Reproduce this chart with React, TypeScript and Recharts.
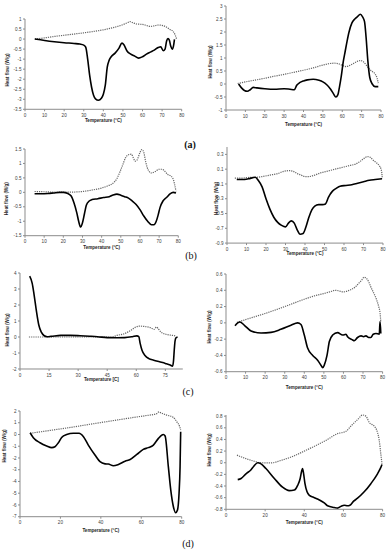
import React from 'react';
import { LineChart, Line, XAxis, YAxis, Label } from 'recharts';

// (a) left
const a1SolidT = [5, 10, 15, 20, 25, 28, 30, 31, 32, 33, 34, 35, 36, 37.5, 39, 40, 41, 42, 43, 44, 46, 48, 49.5, 50.5, 52, 54, 56, 58, 60, 62, 64, 66, 68, 69.3, 70.6, 71.5, 72.3, 73, 73.7, 74.4, 75.2, 75.8, 76.3];
const a1SolidHF = [0, -0.07, -0.13, -0.18, -0.22, -0.25, -0.3, -0.4, -1.0, -1.8, -2.4, -2.8, -2.98, -3.05, -2.95, -2.75, -2.3, -1.4, -1.05, -0.88, -0.7, -0.45, -0.2, -0.28, -0.58, -0.75, -0.85, -0.95, -0.88, -0.75, -0.65, -0.55, -0.42, -0.38, -0.58, -0.5, -0.1, 0.02, -0.05, -0.35, -0.5, -0.35, -0.02];
const a1DotT = [5, 10, 15, 20, 25, 30, 35, 40, 45, 50, 52, 53.6, 55, 57, 60, 62, 64, 66, 68, 70.5, 72.5, 74, 75.7, 76.7, 77.4];
const a1DotHF = [0, 0.06, 0.13, 0.19, 0.25, 0.31, 0.38, 0.46, 0.57, 0.72, 0.8, 0.87, 0.82, 0.75, 0.73, 0.68, 0.63, 0.66, 0.7, 0.67, 0.58, 0.48, 0.37, 0.2, 0.0];

// (a) right
const a2SolidT = [6.5, 8, 9.5, 11, 12.5, 14, 16, 20, 25, 30, 33, 35.3, 36.5, 38, 40, 42, 45, 48, 50, 52, 54, 55.5, 56.7, 57.7, 58.6, 59.5, 60.5, 61.5, 62.5, 63.5, 65, 66.5, 68, 69.3, 70.5, 71.5, 72.3, 73.2, 74.2, 75.5, 77, 78.6];
const a2SolidHF = [0, -0.15, -0.25, -0.28, -0.22, -0.13, -0.15, -0.18, -0.2, -0.18, -0.2, -0.22, -0.05, 0.05, 0.12, 0.16, 0.18, 0.14, 0.08, -0.03, -0.2, -0.38, -0.5, -0.42, -0.1, 0.3, 0.85, 1.25, 1.65, 2.0, 2.35, 2.5, 2.6, 2.68, 2.58, 2.4, 1.8, 0.9, 0.25, 0, -0.1, -0.1];
const a2DotT = [6, 10, 15, 20, 25, 30, 35, 40, 45, 50, 53, 56, 58.5, 60.5, 62, 64, 66, 68, 69.5, 71, 72.5, 74, 75.5, 77, 78, 78.6];
const a2DotHF = [0.02, 0.08, 0.15, 0.22, 0.3, 0.37, 0.45, 0.53, 0.62, 0.73, 0.78, 0.8, 0.77, 0.7, 0.67, 0.72, 0.8, 0.88, 0.9, 0.85, 0.72, 0.57, 0.48, 0.38, 0.22, 0.03];

// (b) left
const b1SolidT = [5, 8, 12, 15, 18, 20, 22, 24, 25.5, 27, 28, 29, 30, 31, 32, 33.5, 35, 38, 41, 44, 46, 48, 50, 52, 54, 56, 58, 60, 62, 64, 66, 67.3, 68.5, 69.5, 70.5, 72, 74, 75.7, 77.4, 78.8];
const b1SolidHF = [-0.05, -0.05, -0.04, -0.02, 0, 0, -0.03, -0.12, -0.35, -0.7, -1.0, -1.2, -1.05, -0.75, -0.45, -0.3, -0.25, -0.22, -0.18, -0.15, -0.09, -0.06, -0.1, -0.15, -0.2, -0.3, -0.42, -0.6, -0.82, -1.0, -1.12, -1.12, -1.0, -0.78, -0.52, -0.3, -0.17, -0.05, 0, -0.02];
const b1DotT = [5, 10, 15, 20, 25, 30, 35, 40, 43, 46, 48, 49.5, 51, 52.5, 54, 55.5, 56.5, 57.5, 58.5, 60, 61, 62, 63, 64.5, 66, 68, 70, 71.5, 73, 74.5, 76, 77.2, 78, 78.8];
const b1DotHF = [0.03, 0.02, 0.01, 0.01, 0.01, 0.03, 0.08, 0.15, 0.22, 0.32, 0.48, 0.7, 0.95, 1.2, 1.3, 1.32, 1.2, 1.08, 1.12, 1.38, 1.48, 1.38, 1.05, 0.75, 0.67, 0.72, 0.8, 0.8, 0.73, 0.62, 0.57, 0.48, 0.3, 0.03];

// (b) right
const b2SolidT = [5, 8, 11, 14.5, 16, 18, 20, 22, 24, 26, 28, 30, 31.5, 33, 34.5, 36, 37.5, 39, 40.5, 42, 43.5, 45, 47, 49, 50.5, 52, 54, 56, 58, 61, 64, 67, 70, 73, 76, 79.5];
const b2SolidHF = [-0.04, -0.04, -0.03, -0.01, -0.05, -0.14, -0.3, -0.44, -0.55, -0.62, -0.66, -0.68, -0.63, -0.6, -0.63, -0.72, -0.78, -0.77, -0.68, -0.55, -0.45, -0.4, -0.38, -0.38, -0.37, -0.28, -0.2, -0.16, -0.13, -0.12, -0.11, -0.09, -0.07, -0.05, -0.04, -0.03];
const b2DotT = [4, 8, 12, 15, 18, 22, 26, 29, 32, 34, 36, 38, 40, 42, 45, 48, 51, 54, 57, 60, 63, 66, 68, 70, 72, 73.5, 75, 76.5, 78, 79, 79.5, 79.6];
const b2DotHF = [-0.02, -0.02, -0.01, -0.01, 0.0, 0.02, 0.04, 0.07, 0.08, 0.07, 0.04, 0.02, 0.0, 0.0, 0.02, 0.05, 0.07, 0.09, 0.11, 0.13, 0.15, 0.17, 0.2, 0.24, 0.27, 0.26, 0.22, 0.19, 0.15, 0.1, 0.02, -0.03];

// (c) left
const c1SolidT = [5, 6.3, 7.2, 8.5, 9.7, 11, 12.5, 14, 16, 21, 26, 31, 36, 40, 45, 50, 54, 58, 60.3, 61.3, 62, 63, 64.5, 66.5, 69, 72, 75, 77.5, 78.7, 79.2, 79.6, 80, 80.5, 81.3];
const c1SolidHF = [3.8, 3.35, 2.7, 1.6, 0.75, 0.3, 0.08, 0.02, 0.04, 0.1, 0.1, 0.08, 0.05, 0.02, -0.04, -0.05, -0.04, 0.02, 0.07, 0.02, -0.4, -0.85, -1.15, -1.35, -1.45, -1.55, -1.65, -1.75, -1.82, -1.5, -0.8, -0.25, -0.05, 0.0];
const c1DotT = [4.6, 10, 20, 30, 40, 47.5, 50, 53.7, 57, 59.7, 61.5, 64, 67.5, 69.2, 70.4, 71.3, 72.7, 75.3, 78.7, 80.5];
const c1DotHF = [0, 0, 0, 0, 0, 0, 0.1, 0.2, 0.4, 0.62, 0.68, 0.66, 0.58, 0.48, 0.62, 0.52, 0.31, 0.17, 0.1, 0.06];

// (c) right
const c2SolidT = [4.6, 6, 7.1, 9.4, 12.8, 17.9, 23, 28, 33.2, 36.6, 38.3, 40, 41.7, 44.3, 46.8, 48.5, 49.4, 50.2, 51.6, 52.8, 54.5, 57, 59.6, 61.3, 62.1, 64.7, 65.5, 67.2, 69, 70.3, 71.5, 72.9, 74, 75.2, 76.6, 78.3, 78.7, 79.1];
const c2SolidHF = [-0.035, 0, 0.01, -0.03, -0.1, -0.125, -0.117, -0.08, -0.03, 0, -0.02, -0.15, -0.31, -0.4, -0.46, -0.52, -0.55, -0.52, -0.4, -0.23, -0.15, -0.12, -0.15, -0.14, -0.17, -0.21, -0.22, -0.18, -0.16, -0.17, -0.16, -0.18, -0.18, -0.14, -0.13, -0.14, 0.015, -0.13];
const c2DotT = [5.6, 10, 20, 30, 40, 45, 50, 53, 56, 58, 60, 63, 66, 68, 69.5, 70.5, 72, 73, 74, 75, 76, 77, 78, 78.7, 79.1];
const c2DotHF = [0.005, 0.04, 0.115, 0.2, 0.29, 0.33, 0.36, 0.38, 0.4, 0.39, 0.38, 0.4, 0.44, 0.49, 0.53, 0.56, 0.54, 0.5, 0.44, 0.39, 0.34, 0.28, 0.2, 0.12, 0.01];

// (d) left
const d1SolidT = [5, 6.6, 9.9, 13.2, 15.7, 17.3, 19, 20.6, 23.1, 26.4, 29.2, 31.4, 33.8, 37.1, 39.6, 42.1, 43.7, 46.2, 48.7, 52, 54.5, 57.8, 61, 63.5, 66, 68.5, 70.9, 71.8, 73.4, 74.6, 75.9, 77, 77.9, 78.7, 79.2, 79.5];
const d1SolidHF = [0.15, -0.27, -0.7, -0.98, -1.12, -1.04, -0.7, -0.25, 0, 0.1, 0.1, -0.19, -0.9, -1.75, -2.32, -2.5, -2.52, -2.66, -2.55, -2.27, -2.13, -1.7, -1.27, -1.12, -0.9, -0.33, 0, -0.13, -2.74, -4.74, -6.15, -6.66, -6.44, -5, -2.75, 0.24];
const d1DotT = [5, 15, 25, 35, 45, 55, 62, 67.7, 68.7, 70, 72.6, 75.9, 77.6, 78.9, 79.5];
const d1DotHF = [0.1, 0.35, 0.6, 0.88, 1.15, 1.42, 1.6, 1.78, 1.92, 1.82, 1.65, 1.45, 1.08, 0.72, 0.38];

// (d) right
const d2SolidT = [6, 7.7, 10.2, 12.8, 14.1, 16.2, 17.9, 20.4, 24.7, 28.9, 32.3, 34.9, 36.6, 37.9, 38.6, 39.1, 39.7, 40.3, 41.4, 42.6, 45.1, 47.7, 50.2, 51.9, 55.3, 57, 58.7, 60.4, 62.1, 63.3, 65.2, 67.2, 70.6, 74, 77.4, 79.1, 79.7];
const d2SolidHF = [-0.29, -0.27, -0.19, -0.12, -0.065, 0, -0.02, -0.1, -0.27, -0.42, -0.48, -0.47, -0.39, -0.27, -0.15, -0.1, -0.2, -0.35, -0.5, -0.56, -0.6, -0.64, -0.69, -0.74, -0.77, -0.78, -0.75, -0.73, -0.74, -0.73, -0.66, -0.61, -0.5, -0.36, -0.19, -0.08, -0.03];
const d2DotT = [5.6, 9.4, 14.5, 17.9, 23, 28.1, 34.9, 40, 46.8, 51.9, 57, 59.6, 61.3, 63.8, 67.2, 69.8, 71.5, 73.2, 75.7, 77.4, 78.3, 79.1, 79.7];
const d2DotHF = [0.13, 0.08, 0.025, 0, -0.003, 0.04, 0.12, 0.2, 0.31, 0.4, 0.5, 0.52, 0.54, 0.63, 0.74, 0.82, 0.8, 0.69, 0.63, 0.52, 0.38, 0.15, -0.02];

// tick labels
const ticks10 = [0, 10, 20, 30, 40, 50, 60, 70, 80];
const ticks15 = [0, 15, 30, 45, 60, 75];
const ticks20 = [0, 20, 40, 60, 80];
const yTicksA1 = [-3.5, -3, -2.5, -2, -1.5, -1, -0.5, 0, 0.5, 1];
const yTicksA2 = [-1, -0.5, 0, 0.5, 1, 1.5, 2, 2.5, 3];
const yTicksB1 = [-1.5, -1, -0.5, 0, 0.5, 1, 1.5];
const yTicksB2 = [-0.9, -0.7, -0.5, -0.3, -0.1, 0.1, 0.3];
const yTicksC1 = [-2, -1, 0, 1, 2, 3, 4];
const yTicksC2 = [-0.6, -0.4, -0.2, 0, 0.2, 0.4, 0.6];
const yTicksD1 = [-7, -6, -5, -4, -3, -2, -1, 0, 1, 2];
const yTicksD2 = [-0.8, -0.6, -0.4, -0.2, 0, 0.2, 0.4, 0.6, 0.8];

const pts = (t: number[], hf: number[]) => t.map((v, i) => ({ t: v, hf: hf[i] }));

const FONT = '"Liberation Sans", Arial, sans-serif';
const AXIS = '#8c8c8c';

interface PanelCfg {
  ax: number; xr: number; yt: number; yb: number;
  xDomain: [number, number]; xTicks: number[];
  yDomain: [number, number]; yTicks: number[];
  xTitle: string; xTitleY: number; yTitleX: number; yTitleY: number;
  solid: { t: number; hf: number }[];
  dotted: { t: number; hf: number }[];
}

const panels: PanelCfg[] = [
  { ax: 25, xr: 181.7, yt: 19, yb: 109.3, xDomain: [0, 80], xTicks: ticks10, yDomain: [-3.5, 1], yTicks: yTicksA1,
    xTitle: 'Temperature (°C)', xTitleY: 121, yTitleX: 7.5, yTitleY: 70, solid: pts(a1SolidT, a1SolidHF), dotted: pts(a1DotT, a1DotHF) },
  { ax: 225.7, xr: 380.7, yt: 6, yb: 110, xDomain: [0, 80], xTicks: ticks10, yDomain: [-1, 3], yTicks: yTicksA2,
    xTitle: 'Temperature (°C)', xTitleY: 124, yTitleX: 210, yTitleY: 62, solid: pts(a2SolidT, a2SolidHF), dotted: pts(a2DotT, a2DotHF) },
  { ax: 25, xr: 178.3, yt: 149.3, yb: 236, xDomain: [0, 80], xTicks: ticks10, yDomain: [-1.5, 1.5], yTicks: yTicksB1,
    xTitle: 'Temperature (°C)', xTitleY: 247.5, yTitleX: 6.5, yTitleY: 199, solid: pts(b1SolidT, b1SolidHF), dotted: pts(b1DotT, b1DotHF) },
  { ax: 227.3, xr: 383.3, yt: 146.6, yb: 242.7, xDomain: [0, 80], xTicks: ticks10, yDomain: [-0.9, 0.4], yTicks: yTicksB2,
    xTitle: 'Temperature (°C)', xTitleY: 253, yTitleX: 216.3, yTitleY: 198, solid: pts(b2SolidT, b2SolidHF), dotted: pts(b2DotT, b2DotHF) },
  { ax: 19.7, xr: 182.5, yt: 273, yb: 369, xDomain: [0, 84], xTicks: ticks15, yDomain: [-2, 4], yTicks: yTicksC1,
    xTitle: 'Temperature [C]', xTitleY: 380, yTitleX: 7.5, yTitleY: 330, solid: pts(c1SolidT, c1SolidHF), dotted: pts(c1DotT, c1DotHF) },
  { ax: 225.7, xr: 382.3, yt: 274, yb: 371.7, xDomain: [0, 80], xTicks: ticks10, yDomain: [-0.6, 0.6], yTicks: yTicksC2,
    xTitle: 'Temperature (°C)', xTitleY: 388, yTitleX: 209, yTitleY: 327, solid: pts(c2SolidT, c2SolidHF), dotted: pts(c2DotT, c2DotHF) },
  { ax: 20, xr: 181.7, yt: 411, yb: 516.7, xDomain: [0, 80], xTicks: ticks20, yDomain: [-7, 2], yTicks: yTicksD1,
    xTitle: 'Temperature (°C)', xTitleY: 531, yTitleX: 4.5, yTitleY: 446, solid: pts(d1SolidT, d1SolidHF), dotted: pts(d1DotT, d1DotHF) },
  { ax: 225.7, xr: 382.3, yt: 415, yb: 509.3, xDomain: [0, 80], xTicks: ticks20, yDomain: [-0.8, 0.8], yTicks: yTicksD2,
    xTitle: 'Temperature (°C)', xTitleY: 523, yTitleX: 209, yTitleY: 450, solid: pts(d2SolidT, d2SolidHF), dotted: pts(d2DotT, d2DotHF) },
];

const L = 30, T = 4, R = 4, B = 22;

function Panel({ cfg }: { cfg: PanelCfg }) {
  const plotW = cfg.xr - cfg.ax;
  const plotH = cfg.yb - cfg.yt;
  const left = cfg.ax - L;
  const top = cfg.yt - T;
  const tick = { fontSize: 4.6, fill: '#404040', fontFamily: FONT };
  const titleProps = { fontSize: 4.6, fontWeight: 'bold' as const, fill: '#262626', fontFamily: FONT };
  const xtX = (cfg.ax + cfg.xr) / 2 - left;
  const xtY = cfg.xTitleY - top;
  const ytX = cfg.yTitleX - left;
  const ytY = cfg.yTitleY - top;
  return (
    <div style={{ position: 'absolute', left, top }}>
      <LineChart width={L + plotW + R} height={T + plotH + B} margin={{ top: T, right: R, bottom: 0, left: 0 }}>
        <XAxis type="number" dataKey="t" domain={cfg.xDomain} ticks={cfg.xTicks} height={B}
          axisLine={{ stroke: AXIS }} tickLine={{ stroke: AXIS }} tickSize={2} tickMargin={2.5} tick={tick} interval={0}>
          <Label content={() => (
            <text x={xtX} y={xtY} textAnchor="middle" dominantBaseline="central" {...titleProps}>{cfg.xTitle}</text>
          )} />
        </XAxis>
        <YAxis type="number" domain={cfg.yDomain} ticks={cfg.yTicks} width={L}
          axisLine={{ stroke: AXIS }} tickLine={{ stroke: AXIS }} tickSize={2} tickMargin={1.5} tick={tick} interval={0}>
          <Label content={() => (
            <text x={0} y={0} transform={`translate(${ytX},${ytY}) rotate(-90)`} textAnchor="middle" dominantBaseline="central" {...titleProps}>Heat flow (W/g)</text>
          )} />
        </YAxis>
        <Line data={cfg.dotted} dataKey="hf" type="monotone" stroke="#666666" strokeWidth={1.2} strokeDasharray="1.2 1"
          dot={false} isAnimationActive={false} />
        <Line data={cfg.solid} dataKey="hf" type="monotone" stroke="#000" strokeWidth={1.6}
          dot={false} isAnimationActive={false} />
      </LineChart>
    </div>
  );
}

const letters = [
  { text: '(a)', x: 190, y: 145, bold: true },
  { text: '(b)', x: 191, y: 256, bold: false },
  { text: '(c)', x: 188, y: 392, bold: false },
  { text: '(d)', x: 188, y: 544, bold: false },
];

export default function App() {
  return (
    <div style={{ position: 'absolute', left: 0, top: 0, width: 389, height: 550, background: '#fff', overflow: 'hidden', fontFamily: FONT }}>
      {panels.map((p, i) => <Panel key={i} cfg={p} />)}
      {letters.map((l) => (
        <div key={l.text} style={{ position: 'absolute', left: l.x, top: l.y, transform: 'translate(-50%, -50%)',
          fontFamily: '"Liberation Serif", "Times New Roman", serif', fontSize: 10, fontWeight: l.bold ? 'bold' : 'normal',
          color: '#111', lineHeight: 1, whiteSpace: 'nowrap' }}>{l.text}</div>
      ))}
    </div>
  );
}
